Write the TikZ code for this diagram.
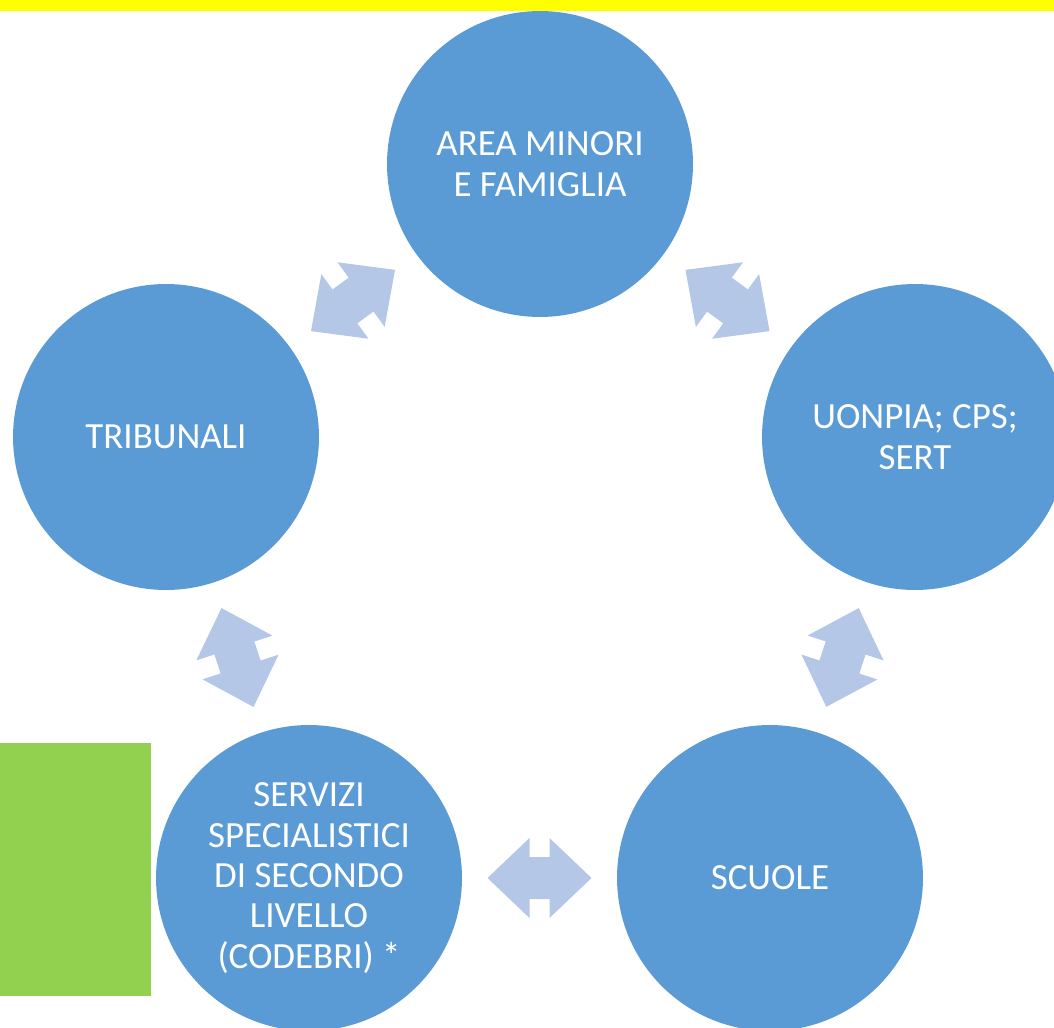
\documentclass[tikz,border=0pt]{standalone}
\usepackage{fontspec}
\setmainfont{Carlito}
\usepackage{tikz}
\usetikzlibrary{calc}
\definecolor{circleblue}{HTML}{5B9BD5}
\definecolor{arrowblue}{HTML}{B4C7E7}
\definecolor{baryellow}{HTML}{FFFF00}
\definecolor{boxgreen}{HTML}{92D050}
\tikzset {
  % circled vertex style
  main/.style = {circle, fill=circleblue, text=white, minimum size=6.12cm,
    inner sep=0pt, align=center, font=\fontsize{21}{23}\selectfont},
  % wide double arrow sitting between two vertices
  pics/twoway/.style = {code={
    \fill[arrowblue] (-52,0) -- (-10,40) -- (-10,21) -- (10,21) -- (10,40)
      -- (52,0) -- (10,-40) -- (10,-21) -- (-10,-21) -- (-10,-40) -- cycle;
  }},
}

\begin{document}
\begin{tikzpicture}[x=0.02cm, y=0.02cm]
      \useasboundingbox (0,0) rectangle (1054,-1027);
      \clip (0,0) rectangle (1054,-1027);

      \fill[baryellow] (0,0) rectangle (1054,-11);
      \fill[boxgreen] (0,-743) rectangle (151,-996);

      \node[main] (area) at (540,-164) {AREA MINORI\\E FAMIGLIA};
      \node[main] (uonpia) at (915,-437) {UONPIA; CPS;\\SERT};
      \node[main] (scuole) at (770,-878) {SCUOLE};
      \node[main] (servizi) at (309,-878) {SERVIZI\\SPECIALISTICI\\DI SECONDO\\LIVELLO\\(CODEBRI) *};
      \node[main] (tribunali) at (166,-437) {TRIBUNALI};

      \path let \p1 = ($(area)-(tribunali)$) in
        ($(tribunali)!0.5!(area)$) pic[rotate={atan2(\y1,\x1)}] {twoway};
      \path let \p1 = ($(uonpia)-(area)$) in
        ($(area)!0.5!(uonpia)$) pic[rotate={atan2(\y1,\x1)}] {twoway};
      \path let \p1 = ($(scuole)-(uonpia)$) in
        ($(uonpia)!0.5!(scuole)$) pic[rotate={atan2(\y1,\x1)}] {twoway};
      \path let \p1 = ($(scuole)-(servizi)$) in
        ($(servizi)!0.5!(scuole)$) pic[rotate={atan2(\y1,\x1)}] {twoway};
      \path let \p1 = ($(servizi)-(tribunali)$) in
        ($(tribunali)!0.5!(servizi)$) pic[rotate={atan2(\y1,\x1)}] {twoway};
\end{tikzpicture}
\end{document}
